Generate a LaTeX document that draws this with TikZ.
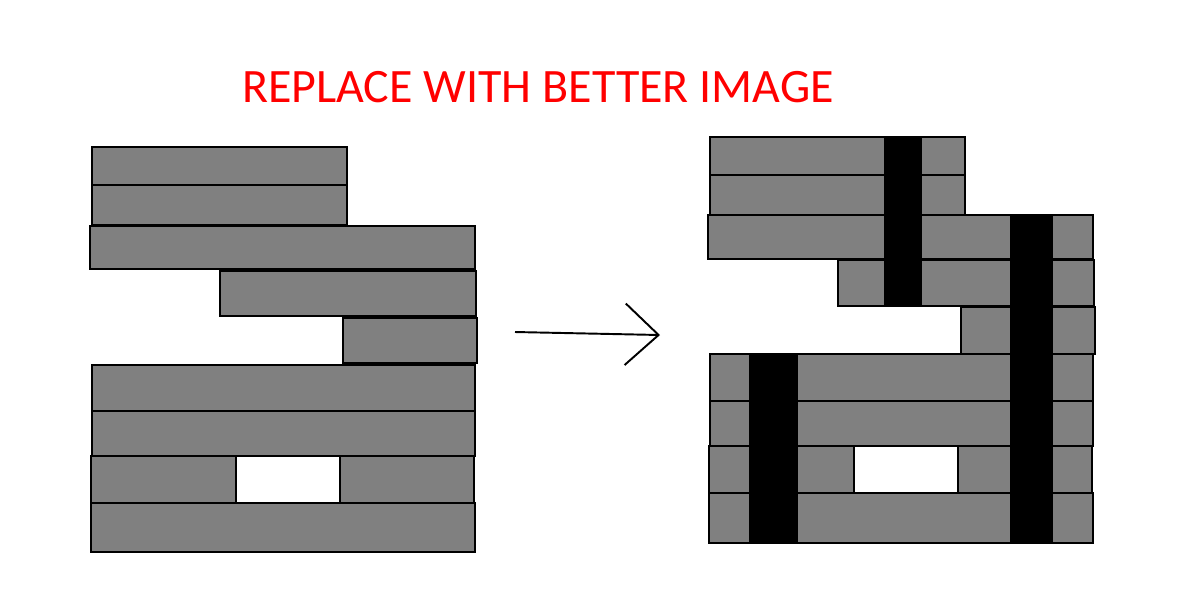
\documentclass[tikz,border=0pt]{standalone}
\usepackage{fontspec}
\setmainfont{Carlito}
\usetikzlibrary{arrows.meta}
\definecolor{brickgray}{RGB}{128,128,128}

\begin{document}
\begin{tikzpicture}[
x=0.02cm, y=-0.02cm,
brick/.style={
draw,
line width=1.1pt,
fill=brickgray
},
joint/.style={
fill=black
}
]
\useasboundingbox (0,0) rectangle (1200,600);

\node[text=red, font=\fontsize{27.3}{32}\selectfont] (title) at (538,87)
{REPLACE WITH BETTER IMAGE};

% wall before
\foreach \xa/\ya/\xb/\yb in {92/147/347/185, 92/185/347/225, 90/226/475/269,
220/271/476/316, 343/318/477/363, 92/365/475/411, 92/411/475/456,
91/456/236/503, 340/456/474/503, 91/503/475/552}
\draw[brick] (\xa,\ya) rectangle (\xb,\yb);

% wall after
\foreach \xa/\ya/\xb/\yb in {710/137/965/175, 710/175/965/215, 708/215/1093/259,
838/260/1094/306, 961/307/1095/354, 710/354/1093/401, 710/401/1093/446,
709/446/854/493, 958/446/1092/493, 709/493/1093/543}
\draw[brick] (\xa,\ya) rectangle (\xb,\yb);

% joints
\fill[joint] (884,137) rectangle (922,305);
\fill[joint] (1010,215) rectangle (1053,543);
\fill[joint] (749,354) rectangle (798,544);

\coordinate (before) at (515,332);
\coordinate (after) at (660,335);
\draw[line width=1.1pt, -{Straight Barb[length=19pt, width=35pt, line width=1.1pt]}] (before) -- (after);

\end{tikzpicture}
\end{document}
